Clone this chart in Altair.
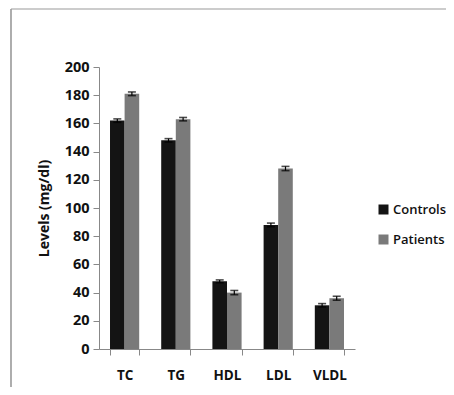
import altair as alt
import pandas as pd

categories = ["TC", "TG", "HDL", "LDL", "VLDL"]
controls = [162, 148, 48, 88, 31]
patients = [181, 163, 40, 128, 36]
controls_err = [1.2, 1.2, 1.0, 1.3, 1.2]
patients_err = [1.3, 1.2, 1.5, 1.5, 1.4]
groups = ["Controls", "Patients"]

rows = []
for i, c in enumerate(categories):
    rows.append({"cat": c, "group": "Controls", "value": controls[i],
                 "lo": controls[i] - controls_err[i], "hi": controls[i] + controls_err[i]})
    rows.append({"cat": c, "group": "Patients", "value": patients[i],
                 "lo": patients[i] - patients_err[i], "hi": patients[i] + patients_err[i]})
df = pd.DataFrame(rows)

FONT = "Open Sans"
W, H = 256, 282

xscale = alt.Scale(domain=categories, paddingInner=0.43, paddingOuter=0.215)
yscale = alt.Scale(domain=[0, 200], nice=False)
color = alt.Color("group:N", scale=alt.Scale(domain=groups, range=["#141414", "#7a7a7a"]),
                  legend=alt.Legend(title=None, orient="none", legendX=W + 22, legendY=136,
                                    labelFont=FONT, labelFontSize=13, labelFontWeight=600,
                                    labelColor="#111", symbolType="square", symbolSize=100,
                                    labelLimit=0, labelOffset=3,
                                    rowPadding=16, symbolStrokeWidth=0))

yaxis = alt.Axis(title="Levels (mg/dl)", values=list(range(0, 201, 20)), grid=False,
                 labelOverlap=False,
                 labelFont=FONT, labelFontSize=14.5, labelFontWeight="bold",
                 labelColor="#111", labelPadding=4, titleFont=FONT,
                 titleFontSize=14, titleFontWeight="bold", titleColor="#111",
                 titlePadding=13, domainColor="#888", tickColor="#888", tickSize=6)
xaxis = alt.Axis(title=None, labelAngle=0, tickBand="extent", labelFont=FONT,
                 labelFontSize=13.5, labelFontWeight="bold", labelColor="#111",
                 labelPadding=13, domainColor="#888", tickColor="#888", tickSize=6)

x = alt.X("cat:N", scale=xscale, sort=categories, axis=xaxis)
xo = alt.XOffset("group:N", sort=groups)

base = alt.Chart(df)
bars = base.mark_bar().encode(x=x, xOffset=xo,
                              y=alt.Y("value:Q", scale=yscale, axis=yaxis), color=color)
err = base.mark_rule(color="#000", strokeWidth=1.2).encode(
    x=x, xOffset=xo, y=alt.Y("lo:Q", scale=yscale, axis=yaxis), y2="hi:Q")
cap_hi = base.mark_tick(color="#000", thickness=1.6, size=8).encode(
    x=x, xOffset=xo, y=alt.Y("hi:Q", scale=yscale, axis=yaxis))
cap_lo = base.mark_tick(color="#000", thickness=1.6, size=8).encode(
    x=x, xOffset=xo, y=alt.Y("lo:Q", scale=yscale, axis=yaxis))

frame_left = alt.Chart(pd.DataFrame({"a": [0]})).mark_rule(color="#777", strokeWidth=1.2).encode(
    x=alt.value(-88), y=alt.value(-58), y2=alt.value(H + 60))
frame_top = alt.Chart(pd.DataFrame({"a": [0]})).mark_rule(color="#999", strokeWidth=1).encode(
    x=alt.value(-88), x2=alt.value(W + 110), y=alt.value(-58))

chart = alt.layer(bars, err, cap_hi, cap_lo, frame_left, frame_top).properties(
    width=W, height=H,
    autosize=alt.AutoSizeParams(type="none"),
    padding={"left": 91, "top": 59, "right": 91, "bottom": 38},
).configure_view(stroke=None).configure_scale(offsetBandPaddingInner=0)

chart.save("out.html", embed_options={"renderer": "svg", "actions": False})
